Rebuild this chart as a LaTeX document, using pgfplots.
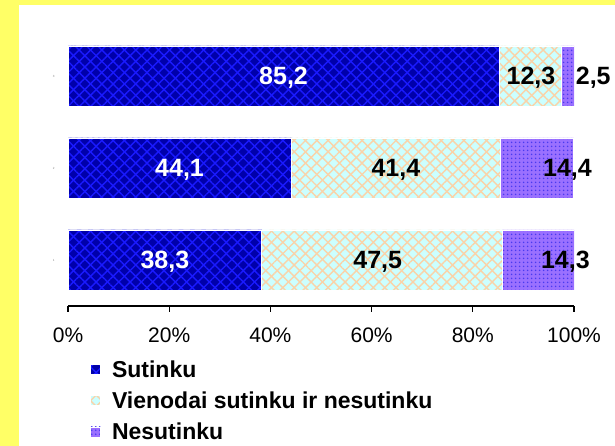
\documentclass[border=0pt]{standalone}
\usepackage{pgfplots}
\pgfplotsset{compat=1.18}
\usepackage{fontspec}
\setmainfont{Liberation Sans}
\usetikzlibrary{patterns.meta}
\definecolor{bgyellow}{HTML}{FFFF66}
\definecolor{bluebase}{HTML}{0000AA}
\definecolor{bluelines}{HTML}{1A1AFF}
\definecolor{creambase}{HTML}{CCFFFF}
\definecolor{creamlines}{HTML}{FAD2A8}
\definecolor{purplebase}{HTML}{9A70FF}
\definecolor{purpledots}{HTML}{4A3AF0}
\begin{document}
\begin{tikzpicture}[x=1pt,y=1pt]
\useasboundingbox (0,0) rectangle (615,446);
\fill[bgyellow] (0,0) rectangle (615,446);
\fill[white] (19,0) rectangle (615,441);
\begin{axis}[
  at={(68pt,140pt)}, anchor=south west,
  scale only axis, width=506pt, height=276pt,
  xbar stacked, bar width=60pt,
  xmin=0, xmax=100, ymin=0.5, ymax=3.5,
  axis x line*=bottom, axis y line*=left,
  y axis line style={draw=none},
  x axis line style={line width=1.5pt},
  xtick={0,20,...,100},
  xticklabels={0\%,20\%,40\%,60\%,80\%,100\%},
  tick align=outside, major tick length=6pt,
  xtick style={black, line width=1.3pt},
  ytick={1,2,3}, yticklabels={1,2,3},
  ytick style={draw=none},
  yticklabel style={font=\fontsize{3}{3}\selectfont, text=gray, xshift=-4pt},
  xticklabel style={font=\fontsize{21}{21}\selectfont, yshift=-12pt},
  legend style={at={(0.0435,-0.197)}, anchor=north west, draw=none, fill=none,
    font=\fontsize{23}{23}\selectfont\bfseries, row sep=13pt, column sep=11pt,
    inner sep=0pt, nodes={inner sep=0pt}},
  legend cell align=left,
  legend image code/.code={\path[#1,draw=none] (0pt,-5pt) rectangle (10pt,5pt);},
]
\addplot[fill=bluebase, draw=white, line width=0.8pt,
  postaction={pattern={Lines[angle=45,distance=8pt,line width=1.4pt]}, pattern color=bluelines},
  postaction={pattern={Lines[angle=-45,distance=8pt,line width=1.4pt]}, pattern color=bluelines}]
  coordinates {(38.3,1) (44.1,2) (85.2,3)};
\addplot[fill=creambase, draw=white, line width=0.8pt,
  postaction={pattern={Lines[angle=45,distance=8pt,line width=1.4pt]}, pattern color=creamlines},
  postaction={pattern={Lines[angle=-45,distance=8pt,line width=1.4pt]}, pattern color=creamlines}]
  coordinates {(47.5,1) (41.4,2) (12.3,3)};
\addplot[fill=purplebase, draw=white, line width=0.8pt,
  postaction={pattern={Dots[distance=4pt,radius=1pt]}, pattern color=purpledots}]
  coordinates {(14.3,1) (14.4,2) (2.5,3)};
\legend{Sutinku, Vienodai sutinku ir nesutinku, Nesutinku}
\end{axis}
\begin{axis}[
  at={(68pt,140pt)}, anchor=south west,
  scale only axis, width=506pt, height=276pt,
  xmin=0, xmax=100, ymin=0.5, ymax=3.5,
  hide axis, clip=false,
  nodes near coords, point meta=explicit symbolic,
  nodes near coords align={anchor=base},
  every node near coord/.append style={font=\fontsize{25}{25}\selectfont\bfseries, inner sep=0pt, yshift=-9pt},
]
\addplot[draw=none, mark=none, every node near coord/.append style={text=white}]
  coordinates {(19.15,1) [38,3] (22.05,2) [44,1] (42.6,3) [85,2]};
\addplot[draw=none, mark=none, every node near coord/.append style={text=black}]
  coordinates {(61.2,1) [47,5] (98.3,1) [14,3] (64.8,2) [41,4] (98.7,2) [14,4] (91.5,3) [12,3] (103.8,3) [2,5]};
\end{axis}
\end{tikzpicture}
\end{document}
